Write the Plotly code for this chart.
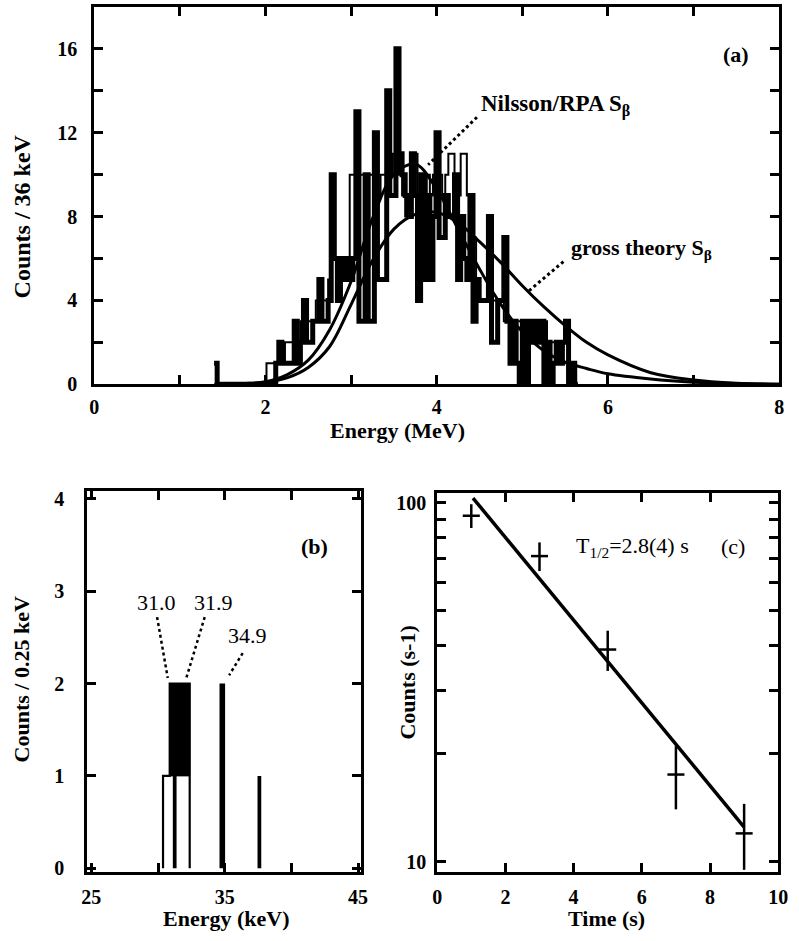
import plotly.graph_objects as go

# ---------------- Panel (a): beta spectrum ----------------
a_bin0 = 1.40          # MeV, left edge of first bin
a_binw = 0.036         # MeV (36 keV bins)
a_thick = [1, 0, 0, 0, 0, 0, 0, 0, 0, 0,
           0, 0, 0, 0, 0, 0, 0, 0, 0, 0,
           1, 2, 1, 1, 1, 1, 3, 1, 2, 4,
           2, 2, 3, 3, 5, 3, 3, 4, 10, 6,
           4, 6, 5, 6, 5, 6, 13, 3, 3, 10,
           3, 3, 12, 5, 5, 5, 14, 9, 9, 16,
           11, 10, 9, 8, 11, 9, 4, 10, 5, 9,
           5, 8, 12, 7, 7, 9, 8, 8, 10, 5,
           8, 6, 5, 9, 3, 5, 4, 4, 4, 8,
           2, 2, 4, 4, 7, 3, 1, 3, 1, 0,
           3, 0, 3, 2, 3, 2, 3, 0, 2, 0,
           1, 2, 1, 2, 3, 0, 1, 0]
a_open = [0, 0, 0, 0, 0, 0, 0, 0, 0, 0,
          0, 0, 0, 0, 0, 0, 0, 1, 1, 1,
          1, 1, 1, 2, 2, 2, 2, 2, 3, 3,
          3, 3, 3, 4, 4, 4, 4, 5, 6, 6,
          6, 6, 6, 6, 10, 10, 10, 10, 10, 10,
          10, 10, 10, 9, 10, 10, 10, 10, 11, 11,
          10, 9, 8, 8, 11, 11, 9, 10, 9, 10,
          9, 10, 10, 10, 9, 10, 11, 11, 9, 9,
          11, 11, 9, 9, 7, 5, 4, 4, 4, 4,
          4, 4, 4, 4, 3, 3, 3, 3, 3, 3,
          3, 2, 3, 3, 3, 2, 3, 3, 2, 2,
          2, 1, 1, 1, 1, 1, 1, 0]

curve_E = [1.5, 1.75, 2.0, 2.25, 2.5, 2.75, 3.0, 3.25, 3.5, 3.75, 4.0, 4.25,
           4.5, 4.75, 5.0, 5.25, 5.5, 5.75, 6.0, 6.5, 7.0, 7.5, 8.0]
nilsson_C = [0.0, 0.03, 0.12, 0.45, 1.15, 2.6, 4.9, 7.9, 10.0, 10.5, 9.3, 7.4,
             5.5, 3.8, 2.5, 1.6, 1.05, 0.75, 0.5, 0.25, 0.1, 0.03, 0.0]
gross_C = [0.0, 0.02, 0.08, 0.3, 0.8, 1.8, 3.8, 5.9, 7.4, 8.1, 8.2, 7.7,
           6.8, 5.8, 4.7, 3.7, 2.8, 2.0, 1.4, 0.55, 0.2, 0.05, 0.0]

# ---------------- Panel (b): x-ray spectrum ----------------
b_binw = 0.25
b_open_start = 30.375
b_open = [1, 1, 2, 2, 2, 2, 2, 2]
b_black_start = 30.875
b_black_lo = [1, 1, 1, 1, 1, 1]
b_black_hi = [2, 2, 2, 2, 2, 2]
b_peak_E = [34.82]
b_peak_C = [2]
b_line_E = [31.25, 37.6]
b_line_C = [1, 1]
b_labels = ["31.0", "31.9", "34.9"]

# ---------------- Panel (c): decay curve ----------------
c_t = [1, 3, 5, 7, 9]
c_counts = [92, 71, 39, 17.5, 12]
c_err = [7, 6.5, 5, 3.5, 2.5]
c_terr = [0.25, 0.25, 0.25, 0.25, 0.25]
c_fit_t = [1.05, 9.0]
c_fit_counts = [103, 12.5]

FONT = "Liberation Serif"
W, H = 799, 941


def step_path(x0, w, vals):
    xs, ys = [], []
    for i, v in enumerate(vals):
        xs += [x0 + w * i, x0 + w * (i + 1)]
        ys += [v, v]
    return xs, ys


fig = go.Figure()

# ---- panel (a) traces ----
edges = [a_bin0 + a_binw * i for i in range(len(a_open) + 1)]
fig.add_trace(go.Scatter(x=edges, y=a_open + [a_open[-1]], mode="lines",
                         line=dict(shape="hv", color="black", width=2),
                         xaxis="x", yaxis="y", hoverinfo="skip"))
fig.add_trace(go.Scatter(x=edges, y=a_thick + [a_thick[-1]], mode="lines",
                         line=dict(shape="hv", color="black", width=5),
                         xaxis="x", yaxis="y", hoverinfo="skip"))
fig.add_trace(go.Scatter(x=curve_E, y=nilsson_C, mode="lines",
                         line=dict(shape="spline", color="black", width=3),
                         xaxis="x", yaxis="y"))
fig.add_trace(go.Scatter(x=curve_E, y=gross_C, mode="lines",
                         line=dict(shape="spline", color="black", width=3),
                         xaxis="x", yaxis="y"))
# leader lines (a)
fig.add_trace(go.Scatter(x=[4.47, 3.90], y=[12.74, 10.47], mode="lines",
                         line=dict(color="black", width=3, dash="dot"),
                         xaxis="x", yaxis="y"))
fig.add_trace(go.Scatter(x=[5.48, 5.07], y=[5.85, 4.43], mode="lines",
                         line=dict(color="black", width=3, dash="dot"),
                         xaxis="x", yaxis="y"))

# ---- panel (b) traces ----
bx = [b_open_start + b_binw * i for i in range(len(b_open) + 1)]
fig.add_trace(go.Scatter(x=[bx[0]] + bx + [bx[-1]],
                         y=[0] + b_open + [b_open[-1], 0],
                         mode="lines", line=dict(shape="hv", color="black", width=2.2),
                         xaxis="x2", yaxis="y2"))
ux, uy = step_path(b_black_start, b_binw, b_black_hi)
lx, ly = step_path(b_black_start, b_binw, b_black_lo)
fig.add_trace(go.Scatter(x=ux + lx[::-1], y=uy + ly[::-1], mode="lines", fill="toself",
                         fillcolor="black", line=dict(color="black", width=1),
                         xaxis="x2", yaxis="y2"))
fig.add_trace(go.Bar(x=b_peak_E, y=b_peak_C, width=0.42,
                     marker=dict(color="black", line=dict(width=0)),
                     xaxis="x2", yaxis="y2"))
fig.add_trace(go.Bar(x=b_line_E, y=b_line_C, width=0.28,
                     marker=dict(color="black", line=dict(width=0)),
                     xaxis="x2", yaxis="y2"))
# leader lines (b)
for (x0, y0, x1, y1) in [(29.93, 2.72, 30.73, 2.06), (33.5, 2.72, 32.12, 2.06),
                         (36.35, 2.33, 35.33, 2.09)]:
    fig.add_trace(go.Scatter(x=[x0, x1], y=[y0, y1], mode="lines",
                             line=dict(color="black", width=2.5, dash="dot"),
                             xaxis="x2", yaxis="y2"))

# ---- panel (c) traces ----
fig.add_trace(go.Scatter(x=c_fit_t, y=c_fit_counts, mode="lines",
                         line=dict(color="black", width=3.5),
                         xaxis="x3", yaxis="y3"))
fig.add_trace(go.Scatter(x=c_t, y=c_counts, mode="markers",
                         marker=dict(size=1, color="black"),
                         error_y=dict(type="data", array=c_err, color="black", thickness=2.5, width=0),
                         error_x=dict(type="data", array=c_terr, color="black", thickness=2.5, width=0),
                         xaxis="x3", yaxis="y3"))

# ---- axes ----
tickfont = dict(family=FONT, size=20, color="black", weight="bold")
common = dict(showline=True, linecolor="black", linewidth=3, mirror="ticks",
              ticks="inside", ticklen=9, tickwidth=3, tickcolor="black",
              showgrid=False, zeroline=False, tickfont=tickfont, fixedrange=True)


def minor(**kw):
    d = dict(ticks="inside", ticklen=9, tickwidth=3, tickcolor="black", showgrid=False)
    d.update(kw)
    return d


fig.update_layout(
    width=W, height=H,
    margin=dict(l=0, r=0, t=0, b=0),
    paper_bgcolor="white", plot_bgcolor="white",
    showlegend=False,
    barmode="overlay",
    font=dict(family=FONT, color="black"),
    xaxis=dict(domain=[90 / W, 789 / W], anchor="y", range=[0, 8],
               tickvals=[0, 2, 4, 6, 8], minor=minor(tickvals=[1, 3, 5, 7]),
               ticklabelstandoff=3, **common),
    yaxis=dict(domain=[1 - 387 / H, 1 - 4 / H], anchor="x", range=[0, 18],
               tickvals=[0, 4, 8, 12, 16], minor=minor(tickvals=[2, 6, 10, 14]),
               ticklabelstandoff=10, **common),
    xaxis2=dict(domain=[83 / W, 362 / W], anchor="y2", range=[24.7, 45.2],
                tickvals=[25, 35, 45], minor=minor(tickvals=[30, 40]),
                ticklabelstandoff=5, **common),
    yaxis2=dict(domain=[1 - 882 / H, 1 - 495 / H], anchor="x2", range=[-0.04, 4.09],
                tickvals=[0, 1, 2, 3, 4], ticklabelstandoff=16, **common),
    xaxis3=dict(domain=[440 / W, 788 / W], anchor="y3", range=[0, 10],
                tickvals=[0, 2, 4, 6, 8, 10], ticklabelstandoff=5, **common),
    yaxis3=dict(domain=[1 - 882 / H, 1 - 497 / H], anchor="x3", type="log",
                range=[0.972, 2.028], tickvals=[10, 100], ticktext=["10", "100"],
                minor=minor(tickvals=[20, 30, 40, 50, 60, 70, 80, 90]),
                ticklabelstandoff=4, **common),
)

ann = []
bold = dict(family=FONT, size=22, color="black", weight="bold")
reg = dict(family=FONT, size=22, color="black")


def A(**kw):
    d = dict(showarrow=False, xanchor="center", yanchor="middle")
    d.update(kw)
    ann.append(d)


# axis titles
A(text="Counts / 36 keV", x=16 / W, y=1 - 217 / H, xref="paper", yref="paper",
  textangle=-90, font=dict(family=FONT, size=24, color="black", weight="bold"))
A(text="Energy (MeV)", x=400 / W, y=1 - 434 / H, xref="paper", yref="paper", font=bold)
A(text="Counts / 0.25 keV", x=16 / W, y=1 - 687 / H, xref="paper", yref="paper",
  textangle=-90, font=bold)
A(text="Energy (keV)", x=225 / W, y=1 - 929 / H, xref="paper", yref="paper", font=bold)
A(text="Counts (s-1)", x=410 / W, y=1 - 690 / H, xref="paper", yref="paper",
  textangle=-90, font=bold)
A(text="Time (s)", x=613 / W, y=1 - 929 / H, xref="paper", yref="paper", font=bold)
# panel labels / texts
A(text="(a)", x=7.49, y=15.75, xref="x", yref="y", font=bold)
A(text="Nilsson/RPA S<sub>β</sub>", x=5.39, y=13.3, xref="x", yref="y",
  font=dict(family=FONT, size=23, color="black", weight="bold"))
A(text="gross theory S<sub>β</sub>", x=6.39, y=6.46, xref="x", yref="y", font=bold)
A(text="(b)", x=41.7, y=3.48, xref="x2", yref="y2", font=bold)
for txt, tx, ty in zip(b_labels, [29.85, 34.16, 36.7], [2.88, 2.88, 2.52]):
    A(text=txt, x=tx, y=ty, xref="x2", yref="y2", font=reg)
A(text="T<sub>1/2</sub>=2.8(4) s", x=5.73, y=1.877, xref="x3", yref="y3", font=reg)
A(text="(c)", x=8.67, y=1.877, xref="x3", yref="y3", font=reg)
fig.update_layout(annotations=ann)

fig.write_html("out.html")
